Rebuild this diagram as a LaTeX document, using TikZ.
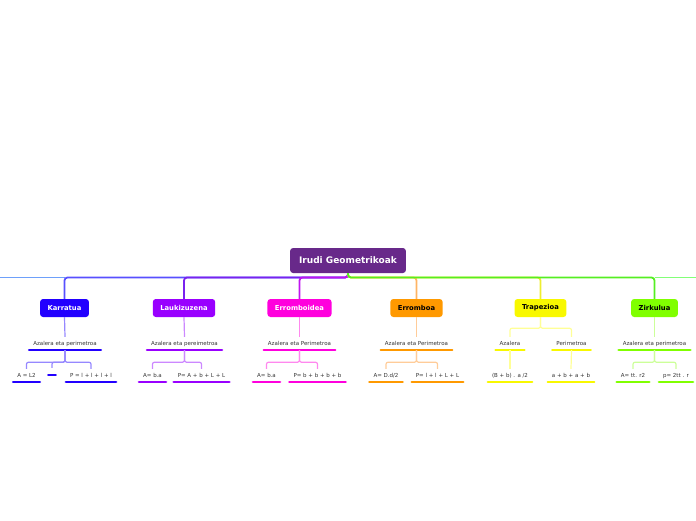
\documentclass[tikz,border=0pt]{standalone}
\usepackage{fontspec}
\setmainfont{DejaVu Sans}
\usepackage{xcolor}
\usepackage{tikz}
\definecolor{rootpurple}{RGB}{104,41,138}
\definecolor{karblue}{RGB}{34,0,255}
\definecolor{karline}{RGB}{88,80,255}
\definecolor{karlight}{RGB}{150,136,255}
\definecolor{laupurple}{RGB}{153,0,255}
\definecolor{lauline}{RGB}{122,34,238}
\definecolor{laulight}{RGB}{204,136,255}
\definecolor{errdpink}{RGB}{255,0,221}
\definecolor{errdline}{RGB}{192,20,240}
\definecolor{errdlight}{RGB}{255,136,238}
\definecolor{erroorange}{RGB}{255,153,0}
\definecolor{erroline}{RGB}{255,180,100}
\definecolor{errolight}{RGB}{255,204,153}
\definecolor{trapyellow}{RGB}{248,248,0}
\definecolor{trapline}{RGB}{238,238,48}
\definecolor{traplight}{RGB}{255,255,150}
\definecolor{zirgreen}{RGB}{128,255,0}
\definecolor{zirline}{RGB}{85,238,34}
\definecolor{zirlight}{RGB}{204,255,153}
\definecolor{leftline}{RGB}{110,160,250}
\definecolor{rightline}{RGB}{130,255,120}
\definecolor{leaftext}{RGB}{51,51,51}

\begin{document}
\begin{tikzpicture}[x=1pt,y=-1pt,
  topic/.style={rounded corners=3pt, fill=#1, minimum height=18pt, inner xsep=7.5pt, inner ysep=0pt, font=\fontsize{6.8}{7}\selectfont\bfseries},
  leaf/.style={inner xsep=4pt, inner ysep=3.5pt, text height=4.5pt, text depth=1.5pt, text=leaftext, font=\fontsize{5.5}{6}\selectfont,
    append after command={(\tikzlastnode.south west) edge[draw=#1, line width=2.5pt, line cap=round] (\tikzlastnode.south east)}},
  conn/.style={draw=#1, line width=1.8pt, rounded corners=3pt},
  sconn/.style={draw=#1, line width=1.2pt, rounded corners=2pt}]
\useasboundingbox (0,0) rectangle (696,520);

% Root
\node[topic=rootpurple, text=white, minimum height=25pt, inner xsep=9pt, font=\fontsize{9}{10}\selectfont\bfseries] (root) at (348,260.5) {Irudi Geometrikoak};
\coordinate (hub) at (348,277.5);
\coordinate (wl) at (0,277.5);
\coordinate (wr) at (696,277.5);

% Main topics
\node[topic=karblue, text=white] (kar) at (64.5,308) {Karratua};
\node[topic=laupurple, text=white] (lau) at (184,308) {Laukizuzena};
\node[topic=errdpink, text=white] (errd) at (299.5,308) {Erromboidea};
\node[topic=erroorange] (erro) at (416.5,308) {Erromboa};
\node[topic=trapyellow] (trap) at (540.5,308) {Trapezioa};
\node[topic=zirgreen] (zir) at (654.5,308) {Zirkulua};

% Main connectors
\draw[conn=leftline] (wl) -- (kar.north |- hub);
\draw[conn=karline] (root.south) -- (hub) -| (kar.north);
\draw[conn=lauline] (root.south) -- (hub) -| (lau.north);
\draw[conn=errdline] (root.south) -- (hub) -| (errd.north);
\draw[conn=rightline] (zir.north |- hub) -- (wr);
\draw[conn=erroline] (root.south) -- (hub) -| (erro.north);
\draw[conn=trapline] (root.south) -- (hub) -| (trap.north);
\draw[conn=zirline] (root.south) -- (hub) -| (zir.north);

% Karratua
\node[leaf=karblue] (kar1) at (65,343.5) {Azalera eta perimetroa};
\node[leaf=karblue] (kar2) at (26.5,375.5) {A = L2};
\node[leaf=karblue, text height=0pt, text depth=0pt, inner xsep=3.5pt] (kar3) at (52,371.5) {};
\node[leaf=karblue] (kar4) at (91,375.5) {P = l + l + l + l};
\draw[sconn=karlight] (kar.south) -- (kar1.north);
\draw[sconn=karlight] (kar1.south) -- ++(0,12) -| (kar2.north);
\draw[sconn=karlight] (kar1.south) -- ++(0,12) -| (kar3.north);
\draw[sconn=karlight] (kar1.south) -- ++(0,12) -| (kar4.north);

% Laukizuzena
\node[leaf=laupurple] (lau1) at (184.5,343.5) {Azalera eta pereimetroa};
\node[leaf=laupurple] (lau2) at (152.5,375.5) {A= b.a};
\node[leaf=laupurple] (lau3) at (201.5,375.5) {P= A + b + L + L};
\draw[sconn=laulight] (lau.south) -- (lau1.north);
\draw[sconn=laulight] (lau1.south) -- ++(0,12) -| (lau2.north);
\draw[sconn=laulight] (lau1.south) -- ++(0,12) -| (lau3.north);

% Erromboidea
\node[leaf=errdpink] (errd1) at (299.5,343.5) {Azalera eta Perimetroa};
\node[leaf=errdpink] (errd2) at (266.5,375.5) {A= b.a};
\node[leaf=errdpink] (errd3) at (317.5,375.5) {P= b + b + b + b};
\draw[sconn=errdlight] (errd.south) -- (errd1.north);
\draw[sconn=errdlight] (errd1.south) -- ++(0,12) -| (errd2.north);
\draw[sconn=errdlight] (errd1.south) -- ++(0,12) -| (errd3.north);

% Erromboa
\node[leaf=erroorange] (erro1) at (416.5,343.5) {Azalera eta Perimetroa};
\node[leaf=erroorange] (erro2) at (386,375.5) {A= D.d/2};
\node[leaf=erroorange] (erro3) at (437.5,375.5) {P= l + l + L + L};
\draw[sconn=errolight] (erro.south) -- (erro1.north);
\draw[sconn=errolight] (erro1.south) -- ++(0,12) -| (erro2.north);
\draw[sconn=errolight] (erro1.south) -- ++(0,12) -| (erro3.north);

% Trapezioa
\node[leaf=trapyellow] (trap1) at (510,343.5) {Azalera};
\node[leaf=trapyellow] (trap2) at (571.5,343.5) {Perimetroa};
\node[leaf=trapyellow] (trap3) at (510,375.5) {(B + b) . a /2};
\node[leaf=trapyellow] (trap4) at (571,375.5) {a + b + a + b};
\draw[sconn=traplight] (trap.south) -- ++(0,11) -| (trap1.north);
\draw[sconn=traplight] (trap.south) -- ++(0,11) -| (trap2.north);
\draw[sconn=traplight] (trap1.south) -- (trap3.north);
\draw[sconn=traplight] (trap2.south) -- (trap4.north);

% Zirkulua
\node[leaf=zirgreen] (zir1) at (654.5,343.5) {Azalera eta perimetroa};
\node[leaf=zirgreen] (zir2) at (633,375.5) {A= tt. r2};
\node[leaf=zirgreen] (zir3) at (676,375.5) {p= 2tt . r};
\draw[sconn=zirlight] (zir.south) -- (zir1.north);
\draw[sconn=zirlight] (zir1.south) -- ++(0,12) -| (zir2.north);
\draw[sconn=zirlight] (zir1.south) -- ++(0,12) -| (zir3.north);
\end{tikzpicture}
\end{document}
